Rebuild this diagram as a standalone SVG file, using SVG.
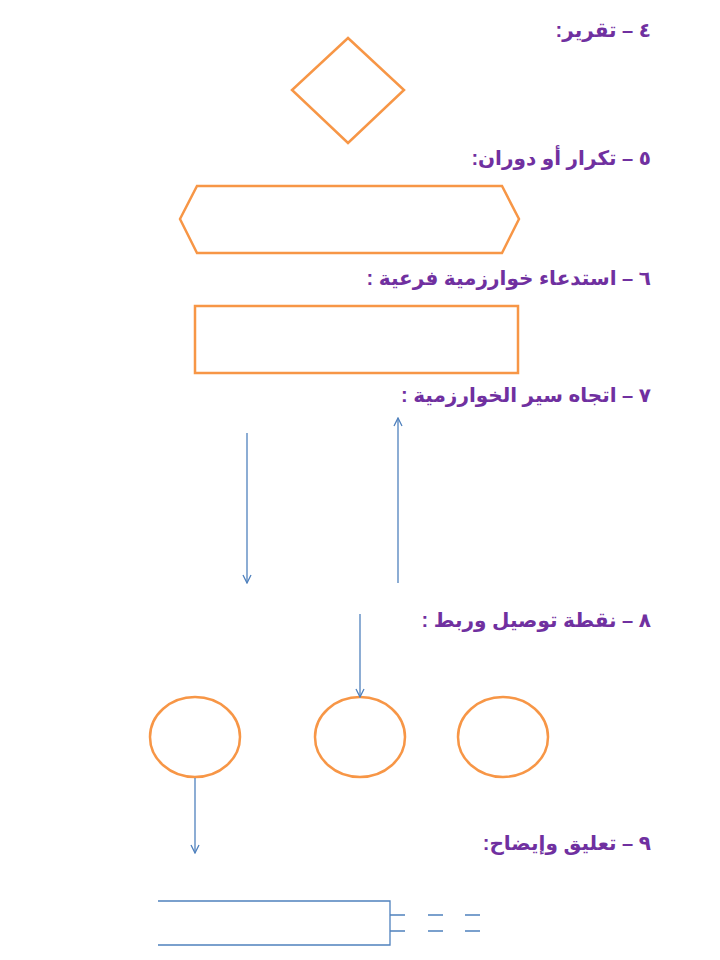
<svg xmlns="http://www.w3.org/2000/svg" width="720" height="960" viewBox="0 0 720 960">
<style>
.t{font-family:"Liberation Sans","DejaVu Sans",sans-serif;font-size:20px;font-weight:bold;fill:#7030A0;direction:rtl;unicode-bidi:embed;text-anchor:start}
.s{fill:none;stroke:#F79646;stroke-width:2.5}
.c{fill:none;stroke:#4F81BD;stroke-width:1.3}
</style>
<defs>
<marker id="ah" viewBox="0 0 10 10" refX="9" refY="5" markerWidth="10" markerHeight="10" markerUnits="userSpaceOnUse" orient="auto">
<path d="M1,1 L9,5 L1,9" fill="none" stroke="#4F81BD" stroke-width="1.3"/>
</marker>
</defs>
<g id="labels">
<text class="t" x="651" y="37">٤ – تقرير:</text>
<text class="t" x="651" y="165">٥ – تكرار أو دوران:</text>
<text class="t" x="651" y="285">٦ – استدعاء خوارزمية فرعية :</text>
<text class="t" x="651" y="402">٧ – اتجاه سير الخوارزمية :</text>
<text class="t" x="651" y="627">٨ – نقطة توصيل وربط :</text>
<text class="t" x="651" y="850">٩ – تعليق وإيضاح:</text>
</g>
<g id="decision"><polygon class="s" points="348,38 404,90 348,143 292,90"/></g>
<g id="loop"><polygon class="s" points="180,219 197,186 502,186 519,219 502,253 197,253"/></g>
<g id="subroutine"><rect class="s" x="195" y="306" width="323" height="67"/></g>
<g id="connector1"><ellipse class="s" cx="195" cy="737" rx="45" ry="40"/></g>
<g id="connector2"><ellipse class="s" cx="360" cy="737" rx="45" ry="40"/></g>
<g id="connector3"><ellipse class="s" cx="503" cy="737" rx="45" ry="40"/></g>
<g id="comment">
<path class="c" d="M158,901 H390 V945 H158"/>
<path class="c" d="M390,915 H405 M428,915 H443 M465,915 H480 M390,931 H405 M428,931 H443 M465,931 H480"/>
</g>
<g id="connectors">
<line class="c" x1="247" y1="433" x2="247" y2="583" marker-end="url(#ah)"/>
<line class="c" x1="398" y1="583" x2="398" y2="418" marker-end="url(#ah)"/>
<line class="c" x1="360" y1="614" x2="360" y2="697" marker-end="url(#ah)"/>
<line class="c" x1="195" y1="778" x2="195" y2="853" marker-end="url(#ah)"/>
</g>
</svg>
